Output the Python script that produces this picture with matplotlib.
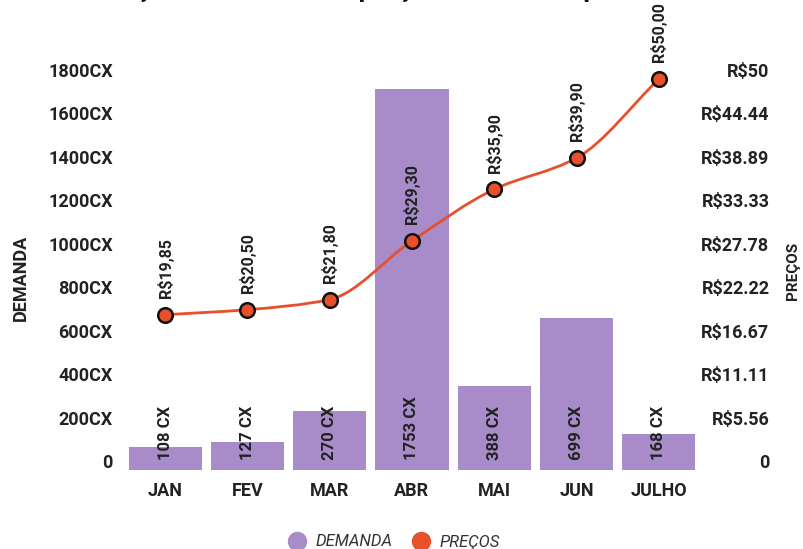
import numpy as np
import matplotlib.pyplot as plt
from matplotlib.path import Path
from matplotlib.patches import PathPatch
from matplotlib.lines import Line2D
from matplotlib.transforms import ScaledTranslation

plt.rcParams['font.family'] = ['Roboto', 'DejaVu Sans']

meses = ['JAN', 'FEV', 'MAR', 'ABR', 'MAI', 'JUN', 'JULHO']
demanda = [108, 127, 270, 1753, 388, 699, 168]
precos = [19.85, 20.50, 21.80, 29.30, 35.90, 39.90, 50.00]
precos_txt = ['R$19,85', 'R$20,50', 'R$21,80', 'R$29,30', 'R$35,90', 'R$39,90', 'R$50,00']

ticks_demanda = [0, 200, 400, 600, 800, 1000, 1200, 1400, 1600, 1800]
rotulos_demanda = ['0', '200CX', '400CX', '600CX', '800CX', '1000CX',
                   '1200CX', '1400CX', '1600CX', '1800CX']
ticks_preco = [0, 5.56, 11.11, 16.67, 22.22, 27.78, 33.33, 38.89, 44.44, 50]
rotulos_preco = ['0', 'R$5.56', 'R$11.11', 'R$16.67', 'R$22.22', 'R$27.78',
                 'R$33.33', 'R$38.89', 'R$44.44', 'R$50']

cor_barra = '#a88bc9'
cor_linha = '#e8502b'
cor_texto = '#222222'


def curva_suave(xs, ys):
    # cubic Hermite segments (monotone tangents) written as Bezier path
    xs = np.asarray(xs, float)
    ys = np.asarray(ys, float)
    d = np.diff(ys) / np.diff(xs)
    m = np.zeros_like(ys)
    m[0], m[-1] = d[0], d[-1]
    for i in range(1, len(ys) - 1):
        if d[i - 1] * d[i] > 0:
            m[i] = 2 / (1 / d[i - 1] + 1 / d[i])
    verts = [(xs[0], ys[0])]
    codes = [Path.MOVETO]
    for i in range(len(xs) - 1):
        h = xs[i + 1] - xs[i]
        verts += [(xs[i] + h / 3, ys[i] + m[i] * h / 3),
                  (xs[i + 1] - h / 3, ys[i + 1] - m[i + 1] * h / 3),
                  (xs[i + 1], ys[i + 1])]
        codes += [Path.CURVE4] * 3
    return Path(verts, codes)


fig = plt.figure(figsize=(8.04, 5.49), dpi=100)
ax = fig.add_axes([0.1542, 0.1439, 0.7164, 0.7122])
x = np.arange(len(meses))

ax.bar(x, demanda, width=0.89, color=cor_barra, zorder=1)
ax.set_xlim(-0.5, 6.5)
ax.set_ylim(0, 1800)
ax.set_xticks(x, meses)
ax.set_yticks(ticks_demanda, rotulos_demanda)
ax.tick_params(axis='x', length=0, pad=9, labelsize=13, labelcolor=cor_texto)
ax.tick_params(axis='y', length=0, pad=8, labelsize=13, labelcolor=cor_texto)
for lbl in ax.get_xticklabels() + ax.get_yticklabels():
    lbl.set_fontweight('bold')
for s in ax.spines.values():
    s.set_visible(False)

for i, v in enumerate(demanda):
    ax.annotate(f'{v} CX', (i, 0), xytext=(0, 7), textcoords='offset points',
                rotation=90, ha='center', va='bottom', fontsize=12,
                fontweight='bold', color=cor_texto)

ax2 = ax.twinx()
ax2.set_ylim(0, 50)
ax2.set_yticks(ticks_preco, rotulos_preco)
ax2.tick_params(axis='y', length=0, pad=50, labelsize=13, labelcolor=cor_texto)
for lbl in ax2.get_yticklabels():
    lbl.set_fontweight('bold')
    lbl.set_horizontalalignment('right')
for s in ax2.spines.values():
    s.set_visible(False)

# tick labels sit slightly above their gridline positions
desloc = ScaledTranslation(0, 9 / 100, fig.dpi_scale_trans)
for lbl in ax.get_yticklabels() + ax2.get_yticklabels():
    lbl.set_transform(lbl.get_transform() + desloc)

ax2.add_patch(PathPatch(curva_suave(x, precos), facecolor='none',
                        edgecolor=cor_linha, lw=2, zorder=2))
ax2.plot(x, precos, linestyle='none', marker='o', markersize=10.5,
         markerfacecolor=cor_linha, markeredgecolor='#111111',
         markeredgewidth=1.8, zorder=3, clip_on=False)
for i, t in enumerate(precos_txt):
    ax2.annotate(t, (i, precos[i]), xytext=(0, 12), textcoords='offset points',
                 rotation=90, ha='center', va='bottom', fontsize=11.5,
                 fontweight='bold', color=cor_texto)

fig.text(21 / 804, 1 - 278 / 549, 'DEMANDA', rotation=90, ha='center',
         va='center', fontsize=13, fontweight='bold', color=cor_texto)
fig.text(793 / 804, 1 - 271 / 549, 'PREÇOS', rotation=90, ha='center',
         va='center', fontsize=11, fontweight='bold', color=cor_texto)

fig.text(71 / 804, 1 + 3 / 549, 'Evolução da demanda e preços da matéria-prima',
         ha='left', va='baseline', fontsize=19, fontweight='bold', color='#111111')

handles = [Line2D([], [], linestyle='none', marker='o', markersize=13,
                  markerfacecolor=cor_barra, markeredgecolor=cor_barra),
           Line2D([], [], linestyle='none', marker='o', markersize=13,
                  markerfacecolor=cor_linha, markeredgecolor=cor_linha)]
fig.legend(handles, ['DEMANDA', 'PREÇOS'], loc='center',
           bbox_to_anchor=(0.4905, 1 - 542 / 549), ncol=2, frameon=False,
           handlelength=1.0, handletextpad=0.6, columnspacing=1.2,
           prop={'style': 'italic', 'size': 12}, labelcolor='#333333')

fig.savefig('out.png', dpi=100)
